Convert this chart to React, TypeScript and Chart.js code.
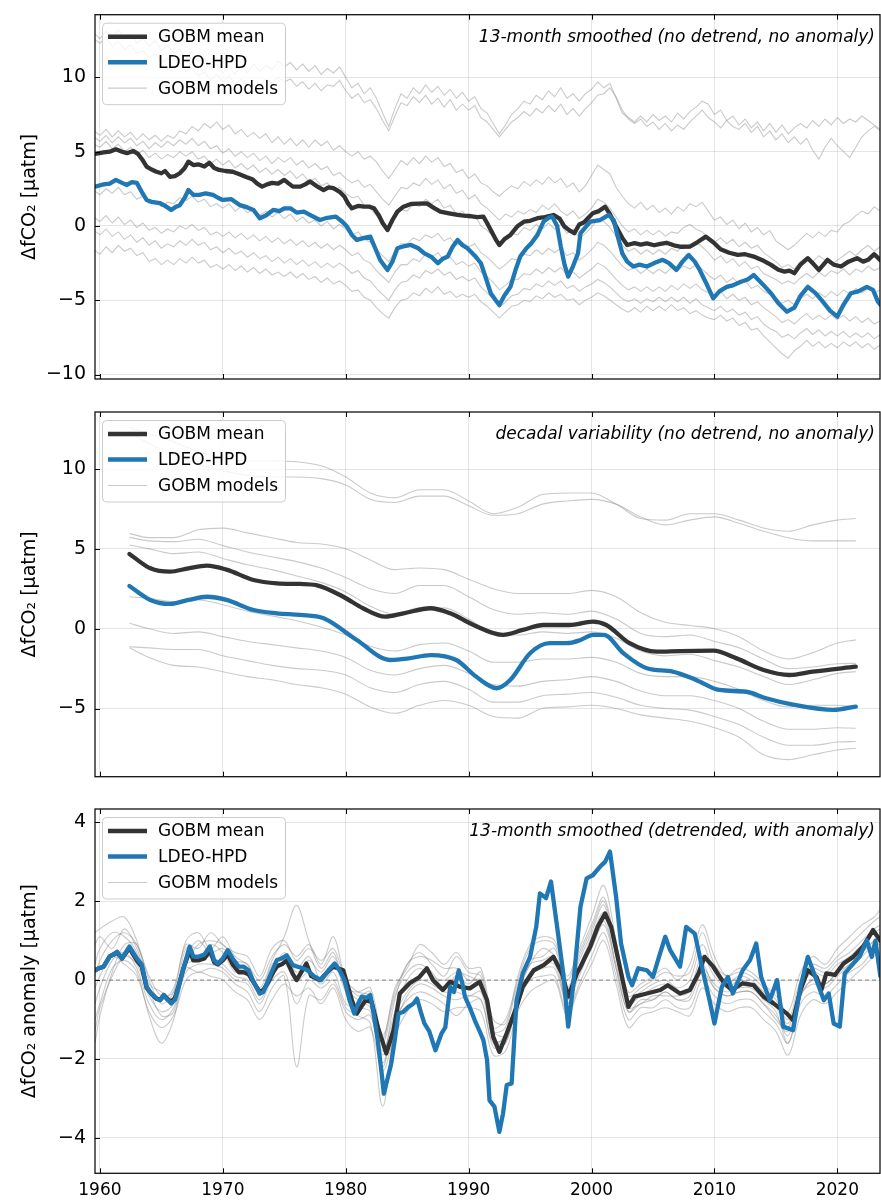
import React, { useEffect, useRef } from "react";
import { Chart, registerables } from "chart.js";

Chart.register(...registerables);

const FONT = '"DejaVu Sans", "Liberation Sans", sans-serif';
const BLACK = "#333333";
const BLUE = "#1f77b4";
const GRAY = "rgba(128,128,128,0.42)";
const GRID = "rgba(0,0,0,0.1)";

const X_MIN = 1959.6;
const X_MAX = 2023.47;
const X_TICKS = [1960, 1970, 1980, 1990, 2000, 2010, 2020];
const P1_Y_TICKS = [-10, -5, 0, 5, 10];
const P2_Y_TICKS = [-5, 0, 5, 10];
const P3_Y_TICKS = [-4, -2, 0, 2, 4];

const LEGEND_LABELS = ["GOBM mean", "LDEO-HPD", "GOBM models"];
const P1_NOTE = "13-month smoothed (no detrend, no anomaly)";
const P2_NOTE = "decadal variability (no detrend, no anomaly)";
const P3_NOTE = "13-month smoothed (detrended, with anomaly)";

// ---------- Panel 1: 13-month smoothed ----------
const P1_MEAN: [number, number][] = [
  [1959.6,4.85],[1960.3,4.95],[1960.8,5.0],[1961.3,5.16],[1961.8,5.0],[1962.2,4.9],[1962.7,5.05],[1963.1,4.85],[1963.5,4.4],[1963.8,4.0],
  [1964.2,3.8],[1964.6,3.65],[1965.0,3.55],[1965.3,3.7],[1965.7,3.3],[1966.1,3.35],[1966.5,3.55],[1966.9,3.9],[1967.2,4.33],[1967.6,4.1],
  [1968.0,4.15],[1968.5,4.0],[1968.9,4.25],[1969.3,3.9],[1969.7,3.77],[1970.2,3.7],[1970.8,3.65],[1971.3,3.5],[1971.9,3.3],[1972.4,3.15],
  [1972.8,2.85],[1973.2,2.65],[1973.6,2.8],[1974.0,2.9],[1974.5,2.85],[1975.0,3.1],[1975.3,2.9],[1975.7,2.65],[1976.3,2.65],[1976.7,2.8],
  [1977.1,3.0],[1977.6,2.7],[1978.2,2.42],[1978.6,2.6],[1979.0,2.54],[1979.5,2.3],[1979.9,1.97],[1980.2,1.5],[1980.5,1.19],[1981.0,1.35],
  [1981.5,1.3],[1981.9,1.3],[1982.3,1.19],[1982.7,0.7],[1983.0,0.2],[1983.4,-0.27],[1983.8,0.4],[1984.2,0.96],[1984.7,1.3],[1985.3,1.48],
  [1985.9,1.5],[1986.6,1.52],[1987.2,1.2],[1987.7,0.96],[1988.4,0.85],[1989.1,0.74],[1989.6,0.7],[1990.1,0.67],[1990.7,0.6],[1991.2,0.63],
  [1991.5,0.2],[1991.8,-0.27],[1992.2,-0.9],[1992.5,-1.28],[1992.9,-0.9],[1993.4,-0.6],[1994.0,0.0],[1994.5,0.29],[1995.0,0.35],[1995.6,0.52],
  [1996.2,0.6],[1996.9,0.74],[1997.4,0.5],[1997.8,-0.04],[1998.2,-0.3],[1998.6,-0.49],[1999.0,0.1],[1999.4,0.25],[1999.8,0.6],[2000.1,0.85],
  [2000.6,1.0],[2001.1,1.3],[2001.5,0.8],[2002.0,-0.04],[2002.5,-0.8],[2002.9,-1.28],[2003.5,-1.15],[2004.0,-1.25],[2004.5,-1.17],[2005.1,-1.3],
  [2005.6,-1.2],[2006.1,-1.13],[2006.7,-1.3],[2007.3,-1.4],[2008.0,-1.39],[2008.6,-1.1],[2009.3,-0.72],[2009.9,-1.1],[2010.5,-1.57],[2011.2,-1.8],
  [2011.9,-1.95],[2012.5,-1.9],[2013.2,-2.06],[2013.9,-2.3],[2014.6,-2.62],[2015.2,-2.95],[2015.7,-3.07],[2016.1,-3.0],[2016.5,-3.18],[2017.0,-2.6],
  [2017.6,-2.17],[2018.1,-2.6],[2018.5,-2.96],[2019.2,-2.28],[2019.7,-2.6],[2020.3,-2.73],[2020.9,-2.4],[2021.6,-2.17],[2022.1,-2.4],[2022.5,-2.28],
  [2023.0,-1.9],[2023.5,-2.3],
];

const P1_LDEO: [number, number][] = [
  [1959.6,2.65],[1960.3,2.8],[1960.8,2.85],[1961.3,3.1],[1961.8,2.9],[1962.2,2.76],[1962.6,2.95],[1963.0,2.9],[1963.4,2.3],[1963.8,1.75],
  [1964.3,1.6],[1964.9,1.53],[1965.3,1.35],[1965.8,1.08],[1966.2,1.3],[1966.5,1.4],[1966.9,1.9],[1967.2,2.42],[1967.6,2.1],[1968.1,2.09],
  [1968.6,2.2],[1969.2,2.09],[1969.6,1.9],[1970.0,1.75],[1970.7,1.8],[1971.4,1.4],[1972.0,1.25],[1972.5,1.08],[1973.0,0.52],[1973.5,0.7],
  [1974.1,1.08],[1974.6,1.0],[1975.0,1.19],[1975.5,1.19],[1976.0,0.9],[1976.6,0.96],[1977.2,0.7],[1977.9,0.4],[1978.5,0.55],[1979.2,0.63],
  [1979.7,0.3],[1980.1,-0.04],[1980.5,-0.6],[1980.9,-0.94],[1981.5,-0.8],[1982.0,-0.72],[1982.4,-1.5],[1982.8,-2.29],[1983.4,-2.96],[1983.8,-2.4],
  [1984.2,-1.5],[1984.8,-1.35],[1985.3,-1.28],[1985.9,-1.5],[1986.4,-1.84],[1987.0,-2.1],[1987.5,-2.51],[1987.9,-2.2],[1988.3,-2.06],[1988.7,-1.4],
  [1989.1,-0.94],[1989.5,-1.3],[1989.9,-1.5],[1990.5,-2.0],[1991.0,-2.51],[1991.4,-3.5],[1991.8,-4.53],[1992.2,-5.0],[1992.5,-5.32],[1992.9,-4.7],
  [1993.4,-4.1],[1993.8,-3.0],[1994.2,-2.06],[1994.7,-1.5],[1995.1,-1.17],[1995.6,-0.6],[1996.1,0.29],[1996.5,0.55],[1996.8,0.63],[1997.2,0.0],
  [1997.5,-1.39],[1997.8,-2.6],[1998.1,-3.41],[1998.5,-2.7],[1998.9,-1.84],[1999.1,-0.49],[1999.5,-0.1],[1999.9,0.29],[2000.3,0.35],[2000.7,0.4],
  [2001.1,0.6],[2001.4,0.74],[2001.8,0.4],[2002.1,-0.6],[2002.5,-1.84],[2002.9,-2.4],[2003.4,-2.73],[2003.9,-2.6],[2004.5,-2.73],[2005.1,-2.5],
  [2005.8,-2.28],[2006.3,-2.5],[2006.9,-2.96],[2007.4,-2.4],[2007.9,-1.95],[2008.4,-2.4],[2008.8,-2.96],[2009.3,-3.8],[2009.9,-4.87],[2010.4,-4.4],
  [2011.0,-4.1],[2011.5,-4.0],[2012.1,-3.77],[2012.7,-3.6],[2013.2,-3.3],[2013.9,-3.9],[2014.6,-4.53],[2015.2,-5.2],[2015.9,-5.77],[2016.5,-5.5],
  [2017.0,-4.7],[2017.6,-4.1],[2018.2,-4.5],[2018.7,-4.98],[2019.4,-5.7],[2020.0,-6.1],[2020.5,-5.3],[2021.1,-4.53],[2021.7,-4.4],[2022.4,-4.1],
  [2022.9,-4.3],[2023.3,-5.09],[2023.5,-5.3],
];

// half-yearly samples from 1959.5
const P1_MODEL_START = 1959.5;
const P1_MODEL_STEP = 0.5;
const P1_MODEL_1 = [13.0,
  12.6,13.1,12.7,13.2,12.6,12.9,12.3,12.6,12.1,12.5,
  11.8,12.2,11.6,11.9,11.3,11.7,11.0,11.3,10.6,10.9,
  10.3,10.7,10.2,10.8,10.3,10.9,10.4,10.8,10.5,11.1,
  10.7,11.0,10.5,10.9,10.4,10.8,10.2,10.6,10.3,10.7,
  10.0,9.3,9.6,8.9,9.3,8.6,7.6,6.7,7.9,8.9,
  8.6,9.3,8.9,9.5,9.0,9.4,8.8,9.2,8.6,9.0,
  8.4,8.7,7.9,7.6,6.9,6.2,6.8,7.5,7.9,8.4,
  8.2,8.8,8.5,9.1,8.7,9.3,8.6,8.9,8.4,8.9,
  9.2,9.7,9.3,9.6,8.6,7.6,7.3,7.0,7.4,7.0,
  7.5,7.1,7.4,7.0,7.6,7.2,7.7,8.0,8.4,8.2,
  7.5,7.8,7.1,7.4,6.8,7.2,6.6,7.0,6.4,6.9,
  6.3,6.8,6.2,6.6,6.9,6.6,7.1,6.7,7.2,6.8,
  7.3,6.9,7.2,7.0,7.4,7.1,6.8,6.5];
const P1_MODEL_2 = [12.6,
  12.3,12.7,12.1,12.4,11.9,12.2,11.6,11.8,11.3,11.6,
  11.0,11.3,10.7,11.0,10.4,10.6,10.1,10.4,9.8,10.2,
  9.7,10.1,9.5,9.9,9.4,9.8,9.5,9.9,9.6,10.0,
  9.7,9.9,9.4,9.7,9.2,9.6,9.1,9.5,9.4,9.8,
  9.1,8.6,8.9,8.3,8.5,7.9,7.1,6.4,7.4,8.3,
  8.1,8.7,8.3,8.8,8.2,8.6,8.0,8.5,7.8,8.2,
  7.8,8.1,7.3,7.0,6.5,6.0,6.5,7.0,7.3,7.7,
  7.4,7.9,7.6,8.1,7.7,8.2,7.5,7.9,7.4,7.9,
  8.3,8.8,8.9,9.3,8.7,7.8,7.2,6.9,7.2,6.7,
  7.0,6.5,6.9,6.4,6.8,6.5,7.0,7.4,7.8,7.3,
  7.0,6.6,7.1,6.7,6.5,6.9,6.3,6.7,6.0,6.4,
  5.8,6.2,5.6,6.0,5.5,5.9,5.1,4.5,5.3,5.9,
  5.4,5.0,4.6,5.3,6.0,6.4,6.7,6.4];
const P1_MODEL_3 = [6.4,
  6.1,6.5,6.0,6.4,6.0,6.3,5.8,6.2,5.8,6.1,
  5.7,6.1,5.9,6.4,6.2,6.7,6.4,6.9,6.6,7.0,
  6.5,6.8,6.2,6.5,6.0,6.3,5.9,6.2,5.6,6.0,
  5.5,5.9,5.4,5.8,5.3,5.8,5.4,5.7,5.1,5.4,
  5.0,4.7,5.0,4.5,4.7,4.3,3.7,3.2,3.8,4.4,
  4.1,4.6,4.2,4.7,4.3,4.6,4.0,4.2,3.6,3.8,
  3.2,3.5,2.9,2.7,2.3,2.0,2.4,2.7,2.5,3.0,
  2.7,3.1,2.8,3.3,2.9,3.2,2.6,2.9,2.3,2.7,
  3.4,4.1,3.8,3.5,2.6,2.0,1.5,1.2,1.6,1.1,
  1.4,0.9,1.2,0.8,1.3,1.0,1.5,1.3,1.6,1.0,
  0.4,0.6,0.1,0.4,-0.2,0.2,-0.4,-0.1,-0.6,-0.3,
  -1.0,-1.3,-1.6,-1.3,-0.9,-0.5,-0.8,-0.4,-0.7,-0.3,
  -0.4,0.1,0.3,0.7,1.0,0.8,1.3,1.0];
const P1_MODEL_4 = [6.0,
  5.7,6.1,5.6,6.0,5.6,5.9,5.4,5.7,5.2,5.6,
  5.3,5.7,5.4,5.8,5.5,5.9,5.4,5.7,5.2,5.4,
  4.9,5.2,4.7,5.0,4.6,4.9,4.4,4.7,4.2,4.6,
  4.3,4.6,4.1,4.4,3.9,4.2,3.8,4.0,3.4,3.6,
  3.2,2.9,3.1,2.6,2.8,2.3,1.8,1.4,2.0,2.6,
  2.5,2.9,2.7,3.2,2.8,3.1,2.5,2.8,2.2,2.4,
  1.8,2.1,1.5,1.2,0.8,0.4,0.8,0.6,1.0,0.8,
  1.1,0.9,1.4,1.1,1.5,1.0,0.7,1.0,0.5,0.8,
  1.2,1.8,1.6,1.2,0.6,0.0,-0.4,-0.2,-0.6,-0.3,
  -0.6,-0.3,-0.7,-0.4,-0.5,-0.1,0.1,-0.2,-0.4,-0.8,
  -1.1,-0.8,-1.2,-0.9,-1.4,-1.1,-1.5,-1.3,-1.8,-2.1,
  -2.4,-2.8,-2.6,-2.9,-2.4,-2.1,-2.4,-2.0,-2.3,-2.6,
  -2.3,-2.0,-1.7,-2.0,-1.6,-1.3,-1.7,-1.4];
const P1_MODEL_5 = [5.5,
  5.3,5.7,5.2,5.5,5.0,5.3,4.8,5.1,4.6,4.9,
  4.5,4.8,4.6,5.0,4.7,5.0,4.5,4.7,4.2,4.5,
  4.1,4.4,3.9,4.2,3.8,4.1,3.6,3.9,3.5,3.8,
  3.4,3.7,3.2,3.5,3.0,3.2,2.7,2.9,2.4,2.6,
  2.2,1.9,2.0,1.4,1.2,0.7,0.2,-0.2,0.5,1.1,
  1.0,1.5,1.3,1.8,1.5,1.8,1.2,1.4,0.8,1.0,
  0.5,0.7,0.0,-0.3,-0.7,-1.2,-0.9,-0.5,-0.6,-0.1,
  -0.3,0.1,-0.2,0.2,-0.2,0.1,-0.5,-0.2,-0.8,-0.5,
  -0.1,0.5,0.3,-0.1,-0.7,-1.3,-1.7,-1.5,-1.9,-1.6,
  -1.9,-1.6,-1.9,-1.5,-1.7,-1.3,-1.5,-1.1,-1.4,-1.8,
  -2.3,-2.0,-2.5,-2.2,-2.7,-2.4,-2.9,-2.7,-3.2,-3.4,
  -3.6,-3.9,-3.7,-3.9,-3.5,-3.2,-3.5,-3.1,-3.4,-3.0,
  -3.2,-2.9,-3.3,-2.9,-3.1,-2.7,-3.0,-2.8];
const P1_MODEL_6 = [2.4,
  2.1,2.5,2.2,2.6,2.1,2.3,1.8,2.0,1.5,1.7,
  1.3,1.6,1.5,1.9,1.7,2.0,1.6,1.8,1.3,1.5,
  1.2,1.5,1.0,1.3,0.9,1.1,0.7,1.0,0.6,0.9,
  0.5,0.8,0.3,0.6,0.2,0.4,0.0,0.3,-0.2,0.1,
  -0.2,-0.6,-0.4,-0.9,-1.1,-1.6,-2.0,-2.4,-1.7,-1.2,
  -1.2,-0.8,-1.0,-0.6,-0.8,-0.5,-1.0,-0.8,-1.3,-1.1,
  -1.4,-1.2,-1.8,-2.1,-2.5,-2.9,-2.6,-2.2,-2.3,-1.9,
  -2.0,-1.6,-1.9,-1.5,-1.8,-1.5,-2.0,-1.8,-2.3,-2.0,
  -1.6,-1.1,-1.3,-1.7,-2.2,-2.7,-3.0,-2.8,-3.2,-2.9,
  -3.2,-2.9,-3.2,-2.8,-3.0,-2.7,-2.9,-2.6,-2.9,-3.3,
  -3.6,-3.3,-3.8,-3.5,-3.9,-3.7,-4.2,-4.0,-4.4,-4.6,
  -4.9,-5.2,-5.0,-5.3,-4.9,-4.6,-4.9,-4.5,-4.8,-4.4,
  -4.7,-4.3,-4.6,-4.2,-4.5,-4.2,-4.5,-4.3];
const P1_MODEL_7 = [0.6,
  0.3,0.7,0.2,0.6,0.1,0.4,-0.1,0.2,-0.3,-0.1,
  -0.5,-0.2,-0.4,0.0,-0.2,0.1,-0.3,-0.1,-0.6,-0.4,
  -0.7,-0.4,-0.8,-0.5,-0.9,-0.6,-1.0,-0.7,-1.1,-0.8,
  -1.2,-0.9,-1.3,-1.0,-1.4,-1.1,-1.5,-1.2,-1.6,-1.3,
  -1.6,-2.0,-1.8,-2.3,-2.5,-3.0,-3.4,-3.8,-3.1,-2.6,
  -2.6,-2.2,-2.4,-1.9,-2.1,-1.8,-2.3,-2.1,-2.6,-2.4,
  -2.7,-2.5,-3.1,-3.4,-3.8,-4.3,-4.0,-3.6,-3.6,-3.2,
  -3.3,-2.9,-3.2,-2.8,-3.1,-2.8,-3.3,-3.1,-3.5,-3.2,
  -2.9,-2.5,-2.7,-3.1,-3.6,-4.0,-4.3,-4.1,-4.4,-4.1,
  -4.4,-4.1,-4.4,-4.0,-4.3,-3.9,-4.2,-3.9,-4.3,-4.5,
  -4.7,-4.4,-4.9,-4.6,-5.0,-4.8,-5.3,-5.1,-5.5,-5.8,
  -6.1,-6.5,-6.3,-6.6,-6.2,-5.9,-6.3,-6.0,-6.3,-6.0,
  -6.3,-6.0,-6.4,-6.1,-6.5,-6.2,-6.6,-6.4];
const P1_MODEL_8 = [-0.3,
  -0.6,-0.2,-0.7,-0.4,-0.9,-0.6,-1.1,-0.8,-1.3,-1.0,
  -1.5,-1.2,-1.4,-1.0,-1.3,-0.9,-1.3,-1.1,-1.6,-1.4,
  -1.8,-1.5,-1.9,-1.7,-2.1,-1.8,-2.2,-2.0,-2.4,-2.1,
  -2.5,-2.2,-2.6,-2.3,-2.7,-2.4,-2.8,-2.5,-2.8,-2.5,
  -2.8,-3.2,-3.0,-3.5,-3.7,-4.2,-4.6,-5.0,-4.3,-3.8,
  -3.7,-3.3,-3.5,-3.0,-3.2,-2.9,-3.3,-3.1,-3.6,-3.4,
  -3.7,-3.5,-4.1,-4.5,-4.9,-5.5,-5.1,-4.7,-4.6,-4.2,
  -4.3,-3.9,-4.1,-3.7,-4.0,-3.7,-4.2,-4.0,-4.4,-4.1,
  -3.9,-3.6,-3.8,-4.1,-4.5,-4.9,-5.1,-4.9,-5.2,-4.9,
  -5.1,-4.8,-5.1,-4.8,-5.1,-4.8,-5.2,-4.9,-5.3,-5.5,
  -5.7,-5.4,-5.8,-5.6,-6.0,-5.8,-6.3,-6.1,-6.6,-6.9,
  -7.1,-7.5,-7.3,-7.6,-7.2,-6.9,-7.3,-7.0,-7.4,-7.1,
  -7.4,-7.1,-7.5,-7.2,-7.5,-7.2,-7.6,-7.3];
const P1_MODEL_9 = [-1.6,
  -1.9,-1.4,-1.8,-1.3,-1.7,-1.5,-2.0,-1.8,-2.4,-2.2,
  -2.6,-2.3,-2.6,-2.2,-2.5,-2.1,-2.5,-2.3,-2.8,-2.6,
  -2.9,-2.6,-3.0,-2.7,-3.1,-2.8,-3.2,-2.9,-3.3,-3.1,
  -3.4,-3.1,-3.5,-3.2,-3.6,-3.4,-3.8,-3.5,-3.9,-3.7,
  -4.0,-4.4,-4.3,-4.8,-5.0,-5.5,-5.9,-6.2,-5.5,-5.0,
  -4.9,-4.5,-4.7,-4.2,-4.5,-4.1,-4.6,-4.4,-4.8,-4.6,
  -4.8,-4.6,-5.1,-5.4,-5.8,-6.2,-5.8,-5.4,-5.3,-5.0,
  -5.1,-4.7,-4.9,-4.5,-4.8,-4.6,-5.0,-4.9,-5.3,-5.0,
  -4.8,-4.5,-4.7,-5.0,-5.3,-5.6,-5.8,-5.5,-5.8,-5.4,
  -5.7,-5.4,-5.7,-5.3,-5.7,-5.5,-5.9,-5.7,-6.0,-6.2,
  -6.3,-6.0,-6.4,-6.2,-6.7,-6.5,-7.0,-6.9,-7.4,-7.8,
  -8.2,-8.6,-8.9,-8.4,-8.1,-7.7,-8.1,-7.8,-8.2,-7.9,
  -8.2,-7.8,-8.1,-7.8,-8.2,-7.9,-8.3,-8.0];
const P1_MODELS = [P1_MODEL_1, P1_MODEL_2, P1_MODEL_3, P1_MODEL_4, P1_MODEL_5, P1_MODEL_6, P1_MODEL_7, P1_MODEL_8, P1_MODEL_9];

// ---------- Panel 2: decadal variability ----------
const P2_MEAN: [number, number][] = [
  [1962.4,4.68],[1964.1,3.78],[1965.7,3.57],[1967.2,3.78],[1968.7,3.95],[1970.3,3.7],[1972.5,3.05],[1974.4,2.84],[1976.3,2.8],[1977.6,2.73],
  [1979.8,2.0],[1981.4,1.28],[1983.2,0.75],[1984.7,0.96],[1986.9,1.28],[1988.5,0.96],[1990.4,0.23],[1992.8,-0.39],[1994.4,-0.08],[1996.1,0.23],
  [1998.2,0.23],[2000.1,0.44],[2001.2,0.23],[2003.1,-0.91],[2005.3,-1.44],[2007.2,-1.4],[2009.9,-1.38],[2011.8,-1.86],[2014.0,-2.59],[2016.1,-2.9],
  [2018.0,-2.69],[2021.5,-2.38],
];
const P2_LDEO: [number, number][] = [
  [1962.4,2.67],[1964.1,1.8],[1965.7,1.55],[1967.2,1.8],[1968.7,2.0],[1970.3,1.8],[1972.5,1.17],[1974.4,0.96],[1976.3,0.86],[1978.2,0.65],
  [1980.9,-0.71],[1983.6,-1.96],[1985.0,-1.88],[1986.9,-1.65],[1989.0,-1.96],[1990.6,-3.0],[1992.3,-3.73],[1993.4,-3.2],[1995.0,-1.54],[1996.6,-0.91],
  [1998.0,-0.91],[1999.1,-0.71],[2000.1,-0.39],[2001.0,-0.39],[2002.6,-1.54],[2004.5,-2.48],[2006.6,-2.69],[2008.5,-3.21],[2010.4,-3.84],[2012.6,-3.95],
  [2014.2,-4.36],[2016.4,-4.76],[2019.7,-5.09],[2021.5,-4.88],
];
const P2_MODEL_YEARS = [1962.4,1964,1966,1968,1970,1972,1974,1976,1978,1980,1982,1984,1986,1988,1990,1992,1994,1996,1998,2000,2002,2004,2006,2008,2010,2012,2014,2016,2018,2020,2021.5];
const P2_MODEL_1 = [12.6,12.2,11.7,11.1,10.7,10.5,10.5,10.45,10.2,9.5,8.5,8.2,8.7,8.7,8.0,7.2,7.6,8.4,8.5,8.5,7.8,6.9,6.8,7.2,7.2,6.8,6.3,6.1,6.5,6.8,6.9];
const P2_MODEL_2 = [12.3,11.6,10.9,10.3,9.9,9.6,9.5,9.5,9.4,9.0,8.1,7.9,8.3,8.3,7.7,7.1,7.2,7.8,8.0,8.1,7.8,7.0,6.5,6.8,7.0,6.6,6.1,5.7,5.5,5.5,5.5];
const P2_MODEL_3 = [5.97,5.7,5.7,6.2,6.3,6.0,5.7,5.4,5.3,5.0,4.3,3.7,3.8,3.7,3.1,2.5,2.2,2.2,2.2,2.4,2.0,1.0,0.4,0.2,0.0,-0.5,-1.4,-1.9,-1.5,-0.9,-0.7];
const P2_MODEL_4 = [5.72,5.5,5.45,5.6,5.2,4.8,4.5,4.2,3.8,3.2,2.5,2.2,2.7,2.7,2.0,1.2,0.9,1.0,0.9,1.1,0.6,-0.3,-0.5,-0.4,-0.8,-1.2,-1.9,-2.5,-2.4,-2.2,-2.17];
const P2_MODEL_5 = [5.24,5.0,4.7,4.8,4.4,4.0,3.7,3.3,2.9,2.3,1.4,0.9,1.3,1.3,0.6,-0.3,-0.4,-0.2,-0.3,-0.2,-0.6,-1.4,-1.7,-1.6,-2.0,-2.4,-3.0,-3.5,-3.2,-2.8,-2.69];
const P2_MODEL_6 = [2.0,1.9,1.7,1.8,1.5,1.1,0.8,0.5,0.1,-0.4,-1.1,-1.4,-1.0,-0.9,-1.4,-2.1,-2.1,-1.9,-1.9,-1.8,-2.1,-2.8,-3.0,-3.0,-3.3,-3.8,-4.5,-4.9,-4.8,-4.8,-4.9];
const P2_MODEL_7 = [0.34,0.0,-0.3,-0.2,-0.5,-0.8,-1.0,-1.2,-1.4,-1.8,-2.6,-2.9,-2.5,-2.3,-2.8,-3.5,-3.6,-3.3,-3.2,-3.0,-3.3,-3.9,-4.2,-4.2,-4.5,-5.0,-5.8,-6.3,-6.3,-6.2,-6.24];
const P2_MODEL_8 = [-1.13,-1.2,-1.3,-1.3,-1.7,-2.0,-2.3,-2.5,-2.6,-2.9,-3.7,-4.0,-3.5,-3.3,-3.8,-4.6,-4.6,-4.2,-4.1,-4.0,-4.3,-4.8,-5.0,-5.1,-5.5,-6.0,-6.8,-7.3,-7.3,-7.1,-7.07];
const P2_MODEL_9 = [-1.2,-1.8,-2.3,-2.4,-2.7,-3.0,-3.2,-3.5,-3.7,-4.1,-4.9,-5.3,-4.8,-4.5,-4.8,-5.5,-5.6,-5.0,-4.9,-4.8,-5.0,-5.4,-5.6,-5.8,-6.2,-6.8,-7.9,-8.2,-7.9,-7.6,-7.49];
const P2_MODELS = [P2_MODEL_1, P2_MODEL_2, P2_MODEL_3, P2_MODEL_4, P2_MODEL_5, P2_MODEL_6, P2_MODEL_7, P2_MODEL_8, P2_MODEL_9];

// ---------- Panel 3: detrended anomaly ----------
const P3_MEAN: [number, number][] = [
  [1959.6,0.25],[1959.9,0.3],[1960.3,0.34],[1960.8,0.6],[1961.1,0.65],[1961.4,0.7],[1961.8,0.55],[1962.1,0.68],[1962.4,0.82],[1962.7,0.65],
  [1963.0,0.5],[1963.4,0.35],[1963.8,-0.2],[1964.2,-0.35],[1964.6,-0.47],[1964.9,-0.5],[1965.2,-0.38],[1965.5,-0.48],[1965.8,-0.55],[1966.1,-0.45],
  [1966.4,-0.15],[1966.8,0.3],[1967.3,0.75],[1967.6,0.5],[1968.0,0.5],[1968.5,0.55],[1968.95,0.75],[1969.3,0.45],[1969.6,0.4],[1970.0,0.5],
  [1970.4,0.65],[1970.8,0.4],[1971.3,0.2],[1971.7,0.2],[1972.1,0.15],[1972.5,-0.05],[1973.0,-0.3],[1973.3,-0.25],[1973.7,-0.05],[1974.1,0.2],
  [1974.4,0.35],[1974.8,0.4],[1975.2,0.5],[1975.7,0.15],[1976.0,0.0],[1976.8,0.42],[1977.2,0.1],[1977.9,0.0],[1978.5,0.2],[1979.0,0.34],
  [1979.8,0.25],[1980.5,-0.51],[1980.9,-0.85],[1981.6,-0.51],[1982.1,-0.55],[1982.6,-1.18],[1983.3,-1.86],[1983.9,-1.27],[1984.4,-0.34],[1985.2,-0.08],
  [1986.0,0.08],[1986.6,0.3],[1987.1,0.0],[1987.9,-0.25],[1988.5,-0.04],[1989.3,-0.17],[1990.1,-0.21],[1990.9,-0.04],[1991.5,-0.51],[1992.0,-1.44],
  [1992.5,-1.82],[1993.1,-1.35],[1993.9,-0.68],[1994.4,-0.17],[1995.3,0.25],[1996.1,0.38],[1996.9,0.59],[1997.6,0.17],[1998.1,-0.42],[1998.8,0.17],
  [1999.1,0.34],[1999.5,0.6],[1999.9,0.85],[2000.5,1.35],[2001.1,1.69],[2001.6,1.35],[2002.3,0.34],[2003.0,-0.68],[2003.5,-0.42],[2004.5,-0.34],
  [2005.6,-0.25],[2006.2,-0.13],[2007.2,-0.34],[2008.0,-0.25],[2008.7,0.17],[2009.2,0.59],[2009.9,0.34],[2010.7,-0.04],[2011.4,-0.25],[2012.3,-0.08],
  [2013.2,-0.13],[2014.0,-0.42],[2014.8,-0.59],[2015.9,-0.85],[2016.4,-1.02],[2017.0,-0.25],[2017.6,0.25],[2018.3,0.08],[2018.7,-0.25],[2019.1,0.17],
  [2019.8,0.13],[2020.5,0.42],[2021.3,0.59],[2022.1,0.85],[2022.9,1.27],[2023.5,1.0],
];
const P3_LDEO: [number, number][] = [
  [1959.6,0.25],[1959.9,0.3],[1960.3,0.34],[1960.8,0.6],[1961.1,0.65],[1961.4,0.72],[1961.8,0.55],[1962.1,0.7],[1962.4,0.85],[1962.7,0.7],
  [1963.0,0.55],[1963.4,0.4],[1963.8,-0.17],[1964.2,-0.35],[1964.6,-0.47],[1964.9,-0.51],[1965.2,-0.38],[1965.5,-0.5],[1965.8,-0.59],[1966.1,-0.5],
  [1966.4,-0.17],[1966.8,0.3],[1967.3,0.85],[1967.6,0.6],[1968.0,0.59],[1968.5,0.65],[1968.95,0.85],[1969.3,0.5],[1969.6,0.42],[1970.0,0.55],
  [1970.4,0.76],[1970.8,0.55],[1971.3,0.34],[1971.7,0.34],[1972.1,0.25],[1972.5,-0.05],[1973.0,-0.34],[1973.3,-0.3],[1973.7,0.0],[1974.1,0.3],
  [1974.4,0.51],[1974.8,0.55],[1975.2,0.63],[1975.7,0.38],[1976.1,0.34],[1976.5,0.3],[1976.9,0.25],[1977.4,0.1],[1978.0,0.0],[1978.6,0.25],
  [1979.1,0.42],[1979.5,0.25],[1979.9,0.0],[1980.3,-0.5],[1980.7,-0.85],[1981.0,-0.6],[1981.3,-0.42],[1981.7,-0.45],[1982.0,-0.38],[1982.3,-0.9],
  [1982.6,-1.52],[1982.9,-2.3],[1983.1,-2.88],[1983.4,-2.5],[1983.7,-2.12],[1984.0,-1.5],[1984.3,-0.85],[1984.7,-0.8],[1985.1,-0.68],[1985.5,-0.6],
  [1985.8,-0.47],[1986.1,-0.8],[1986.4,-1.1],[1986.8,-1.3],[1987.3,-1.78],[1987.8,-1.35],[1988.1,-1.2],[1988.5,-0.17],[1988.8,-0.3],[1989.2,0.25],
  [1989.5,-0.1],[1989.7,-0.42],[1990.1,-0.7],[1990.5,-1.02],[1990.9,-1.3],[1991.2,-1.52],[1991.5,-2.03],[1991.7,-3.05],[1992.1,-3.21],[1992.5,-3.85],
  [1992.8,-3.38],[1993.1,-2.66],[1993.5,-2.62],[1993.9,-0.51],[1994.4,0.17],[1995.0,0.59],[1995.5,1.35],[1995.8,2.2],[1996.3,2.08],[1996.7,2.5],
  [1997.2,1.35],[1997.7,0.17],[1998.1,-1.18],[1998.5,-0.17],[1999.1,1.86],[1999.6,2.58],[2000.1,2.66],[2000.7,2.88],[2001.1,3.0],[2001.5,3.26],
  [2002.0,2.11],[2002.4,0.93],[2003.0,0.08],[2003.3,-0.13],[2003.8,0.3],[2004.5,0.25],[2005.0,0.08],[2005.5,0.6],[2006.0,1.1],[2006.4,0.76],
  [2007.2,0.34],[2007.7,1.35],[2008.4,1.18],[2009.1,0.17],[2009.6,-0.51],[2010.0,-1.1],[2010.6,-0.17],[2011.1,0.08],[2011.5,-0.34],[2012.3,0.25],
  [2012.9,0.51],[2013.4,0.93],[2013.8,0.08],[2014.5,-0.51],[2015.1,0.0],[2015.6,-1.18],[2016.4,-1.27],[2017.0,-0.17],[2017.6,0.59],[2018.3,0.0],
  [2018.9,-0.51],[2019.3,-0.34],[2019.7,-1.1],[2020.2,-1.18],[2020.6,0.17],[2021.3,0.42],[2021.8,0.59],[2022.4,1.01],[2022.8,0.59],[2023.1,1.0],
  [2023.5,0.1],
];
// samples at 1959.6, every year 1960..2023, and 2023.5
const P3_MODEL_1 = [-1.6,
  -0.9,0.2,0.9,0.9,-0.2,-0.9,-0.8,0.4,0.9,1.0,
  0.9,0.5,0.4,-0.2,0.5,1.1,1.9,1.0,0.3,0.7,
  -0.2,-0.3,-0.2,-1.4,-0.3,0.4,0.7,0.4,0.1,0.6,
  0.2,0.1,-1.2,-1.0,0.0,0.8,1.0,0.9,0.0,0.7,
  1.4,2.1,0.8,-0.3,-0.1,0.1,0.3,0.0,0.4,1.4,
  0.6,0.1,0.3,0.2,-0.1,-0.4,-0.8,0.2,0.6,0.4,
  0.8,1.1,1.4,1.6,
  1.8];
const P3_MODEL_2 = [-1.0,
  -0.6,0.3,0.5,0.2,-0.9,-1.6,-1.0,0.3,0.2,0.3,
  0.2,-0.1,-0.3,-0.8,-0.2,0.1,-2.2,-0.4,-0.5,-0.1,
  -0.8,-1.0,-0.9,-2.1,-1.0,-0.5,-0.3,-0.4,-0.6,-0.9,
  -0.6,-0.5,-1.7,-1.6,-0.6,0.0,0.1,0.1,-0.8,-0.1,
  0.6,1.2,0.1,-1.0,-0.7,-0.7,-0.5,-0.7,-0.7,0.0,
  -0.4,-0.6,-0.5,-0.5,-0.8,-1.1,-1.6,-0.6,-0.3,-0.4,
  -0.1,0.2,0.4,0.8,
  1.0];
const P3_MODEL_3 = [0.9,
  1.1,0.8,1.3,0.8,-0.1,-0.3,-0.5,0.8,0.5,0.9,
  0.7,0.2,0.3,-0.4,0.4,0.6,0.3,0.6,0.0,0.4,
  -0.3,-0.8,-0.5,-1.6,-0.4,0.2,0.4,0.2,-0.2,0.1,
  -0.1,0.2,-1.3,-1.2,-0.1,0.5,0.6,0.8,-0.3,0.5,
  1.2,1.9,0.6,-0.5,-0.3,-0.1,0.0,-0.2,0.0,0.9,
  0.2,-0.1,0.1,0.0,-0.3,-0.6,-1.2,-0.1,0.3,0.2,
  0.5,0.7,1.0,1.3,
  1.4];
const P3_MODEL_4 = [1.2,
  1.3,1.5,1.6,1.0,0.0,-0.6,-0.3,1.0,1.2,0.8,
  1.1,0.6,0.4,0.0,0.6,0.9,0.6,0.9,0.4,1.1,
  0.0,-0.4,-0.3,-1.9,-0.5,0.4,0.6,0.5,0.3,0.3,
  0.0,0.0,-1.5,-1.6,-0.4,0.4,0.5,0.6,-0.6,0.3,
  1.1,1.7,0.3,-0.8,-0.6,-0.5,-0.3,-0.5,-0.4,0.4,
  -0.2,-0.4,-0.3,-0.3,-0.6,-1.0,-1.3,-0.4,0.0,-0.1,
  0.2,0.5,0.7,1.0,
  1.1];
const P3_MODEL_5 = [-0.6,
  -0.2,0.5,0.7,0.3,-0.6,-1.0,-0.7,0.2,0.4,0.4,
  0.3,0.0,-0.1,-0.6,0.0,0.2,-0.6,0.0,-0.2,0.0,
  -0.7,-0.9,-1.1,-3.2,-1.2,-0.4,-0.1,-0.2,-0.4,-0.5,
  -0.4,-0.5,-1.6,-1.4,-0.5,0.1,0.3,0.3,-0.6,0.2,
  0.8,1.4,0.3,-0.8,-0.5,-0.5,-0.3,-0.5,-0.5,0.2,
  -0.2,-0.4,-0.3,-0.3,-0.6,-0.9,-1.4,-0.4,-0.1,-0.2,
  0.1,0.4,0.6,0.9,
  0.9];
const P3_MODEL_6 = [0.4,
  0.8,1.2,1.1,0.7,-0.3,-0.5,-0.2,0.9,0.8,1.2,
  0.9,0.7,0.6,0.1,0.8,1.0,0.5,0.8,0.5,0.8,
  0.0,-0.3,-0.4,-1.5,-0.2,0.3,0.9,0.7,0.4,0.7,
  0.3,0.3,-1.0,-1.1,0.1,0.9,1.1,1.0,0.1,0.8,
  1.6,2.4,1.0,-0.4,-0.2,0.0,0.2,0.1,0.2,1.2,
  0.4,0.1,0.2,0.1,-0.2,-0.5,-1.0,0.0,0.4,0.3,
  0.6,0.9,1.2,1.5,
  1.6];
const P3_MODEL_7 = [-0.2,
  0.1,0.6,0.4,0.1,-0.8,-1.2,-0.9,0.0,0.2,0.1,
  0.0,-0.3,-0.5,-1.0,-0.5,-0.1,-0.4,-0.2,-0.6,-0.2,
  -1.0,-1.3,-1.2,-2.3,-1.4,-0.8,-0.5,-0.6,-0.8,-0.7,
  -0.7,-0.8,-1.9,-1.8,-0.8,-0.3,-0.1,0.0,-0.9,-0.2,
  0.4,1.0,-0.1,-1.2,-0.9,-0.8,-0.7,-0.8,-0.9,-0.2,
  -0.6,-0.8,-0.7,-0.7,-1.0,-1.3,-1.9,-0.9,-0.5,-0.6,
  -0.3,0.0,0.3,0.6,
  0.7];
const P3_MODEL_8 = [0.1,
  0.5,1.0,1.2,0.9,0.1,-0.4,-0.3,0.6,1.0,0.7,
  0.8,0.4,0.1,-0.3,0.2,0.7,0.2,0.5,0.2,0.6,
  -0.2,-0.5,-0.7,-1.8,-0.8,0.0,0.3,0.1,0.0,0.2,
  0.1,-0.1,-1.3,-1.4,-0.3,0.4,0.8,0.6,-0.2,0.6,
  1.3,2.0,0.7,-0.6,-0.4,-0.2,-0.1,-0.3,-0.2,0.6,
  0.1,-0.2,0.0,-0.1,-0.4,-0.7,-1.1,-0.2,0.2,0.1,
  0.4,0.6,0.9,1.2,
  1.3];
const P3_MODEL_9 = [-1.3,
  -0.7,0.1,0.6,0.4,-0.4,-0.8,-0.6,0.4,0.5,0.6,
  0.4,0.1,0.0,-0.5,0.1,0.4,0.0,0.2,-0.1,0.2,
  -0.6,-0.7,-0.8,-2.2,-0.9,-0.3,0.0,-0.1,-0.3,-0.3,
  -0.4,-0.3,-1.5,-1.5,-0.4,0.2,0.4,0.4,-0.5,0.1,
  0.9,1.5,0.4,-0.7,-0.6,-0.4,-0.4,-0.4,-0.3,0.3,
  -0.1,-0.3,-0.2,-0.2,-0.5,-0.8,-1.6,-0.4,0.0,-0.1,
  0.2,0.4,0.7,1.0,
  1.1];
const P3_MODELS = [P3_MODEL_1, P3_MODEL_2, P3_MODEL_3, P3_MODEL_4, P3_MODEL_5, P3_MODEL_6, P3_MODEL_7, P3_MODEL_8, P3_MODEL_9];
const P3_MODEL_YEARS = [1959.6, ...Array.from({ length: 64 }, (_, i) => 1960 + i), 2023.5];

// ---------- helpers ----------
const pairsXY = (p: [number, number][]) => p.map(([x, y]) => ({ x, y }));
const zipXY = (xs: number[], ys: number[]) => ys.map((y, i) => ({ x: xs[i], y }));
const P1_MODEL_YEARS = P1_MODEL_1.map((_, i) => P1_MODEL_START + P1_MODEL_STEP * i);

const decorPlugin = {
  id: "decor",
  beforeDatasetsDraw(chart: any, _a: any, o: any) {
    if (!o || !o.zeroLine) return;
    const { ctx, chartArea: ca, scales } = chart;
    const py = scales.y.getPixelForValue(0);
    ctx.save();
    ctx.strokeStyle = "#7f7f7f";
    ctx.lineWidth = 1;
    ctx.setLineDash([4, 3]);
    ctx.beginPath();
    ctx.moveTo(ca.left, py);
    ctx.lineTo(ca.right, py);
    ctx.stroke();
    ctx.restore();
  },
  afterDraw(chart: any, _a: any, o: any) {
    const { ctx, chartArea: ca, scales } = chart;
    const xS = scales.x;
    const yS = scales.y;
    ctx.save();
    // inward tick marks
    ctx.strokeStyle = "#000";
    ctx.lineWidth = 1;
    ctx.beginPath();
    for (const t of yS.ticks) {
      const py = Math.round(yS.getPixelForValue(t.value)) + 0.5;
      ctx.moveTo(ca.left, py);
      ctx.lineTo(ca.left + 5, py);
    }
    for (const t of xS.ticks) {
      const px = Math.round(xS.getPixelForValue(t.value)) + 0.5;
      ctx.moveTo(px, ca.bottom);
      ctx.lineTo(px, ca.bottom - 5);
      ctx.moveTo(px, ca.top);
      ctx.lineTo(px, ca.top + 5);
    }
    ctx.stroke();
    // frame
    ctx.strokeStyle = "#111";
    ctx.lineWidth = 1.3;
    ctx.strokeRect(ca.left, ca.top, ca.right - ca.left, ca.bottom - ca.top);

    // legend box
    const bx = ca.left + 7.5, by = ca.top + 8.5, bw = 183, bh = 81.5, r = 4;
    ctx.beginPath();
    ctx.moveTo(bx + r, by);
    ctx.lineTo(bx + bw - r, by);
    ctx.quadraticCurveTo(bx + bw, by, bx + bw, by + r);
    ctx.lineTo(bx + bw, by + bh - r);
    ctx.quadraticCurveTo(bx + bw, by + bh, bx + bw - r, by + bh);
    ctx.lineTo(bx + r, by + bh);
    ctx.quadraticCurveTo(bx, by + bh, bx, by + bh - r);
    ctx.lineTo(bx, by + r);
    ctx.quadraticCurveTo(bx, by, bx + r, by);
    ctx.closePath();
    ctx.fillStyle = "rgba(255,255,255,0.8)";
    ctx.fill();
    ctx.strokeStyle = "#cccccc";
    ctx.lineWidth = 1;
    ctx.stroke();

    const rows = [22, 47.5, 73.5];
    const styles = [
      { c: BLACK, w: 4.5 },
      { c: BLUE, w: 4.5 },
      { c: GRAY, w: 1.2 },
    ];
    ctx.font = `17px ${FONT}`;
    ctx.textBaseline = "middle";
    ctx.textAlign = "left";
    rows.forEach((ry, i) => {
      const yy = ca.top + ry;
      ctx.strokeStyle = styles[i].c;
      ctx.lineWidth = styles[i].w;
      ctx.lineCap = "butt";
      ctx.beginPath();
      ctx.moveTo(ca.left + 13, yy);
      ctx.lineTo(ca.left + 52, yy);
      ctx.stroke();
      ctx.fillStyle = "#000";
      ctx.fillText(LEGEND_LABELS[i], ca.left + 63, yy + 1);
    });

    // annotation
    if (o && o.note) {
      ctx.font = `italic 17px ${FONT}`;
      ctx.textAlign = "right";
      ctx.textBaseline = "middle";
      ctx.fillStyle = "#000";
      ctx.fillText(o.note, ca.right - 5, ca.top + 23);
    }
    ctx.restore();
  },
};

type PanelSpec = {
  datasets: any[];
  yMin: number;
  yMax: number;
  yTicks: number[];
  yTitle: string;
  padTop: number;
  padBottom: number;
  xHeight: number;
  showX: boolean;
  note: string;
  zeroLine: boolean;
};

function makeConfig(p: PanelSpec): any {
  return {
    type: "line",
    data: { datasets: p.datasets },
    options: {
      responsive: false,
      animation: false,
      devicePixelRatio: 1,
      events: [],
      layout: { padding: { left: 0, right: 1, top: p.padTop, bottom: p.padBottom } },
      plugins: {
        legend: { display: false },
        tooltip: { enabled: false },
        decor: { note: p.note, zeroLine: p.zeroLine },
      },
      elements: { point: { radius: 0 } },
      scales: {
        x: {
          type: "linear",
          min: X_MIN,
          max: X_MAX,
          afterBuildTicks: (s: any) => {
            s.ticks = X_TICKS.map((v) => ({ value: v }));
          },
          ticks: {
            display: p.showX,
            autoSkip: false,
            maxRotation: 0,
            color: "#000",
            padding: 7,
            font: { family: FONT, size: 17 },
            callback: (v: any) => String(v),
          },
          grid: { color: GRID, lineWidth: 1, drawTicks: false },
          border: { display: false },
          afterFit: (s: any) => {
            s.height = p.xHeight;
            s.paddingLeft = 0;
            s.paddingRight = 0;
            s.paddingTop = 0;
            s.paddingBottom = 0;
          },
        },
        y: {
          type: "linear",
          min: p.yMin,
          max: p.yMax,
          afterBuildTicks: (s: any) => {
            s.ticks = p.yTicks.map((v) => ({ value: v }));
          },
          ticks: {
            color: "#000",
            padding: 9,
            font: { family: FONT, size: 19 },
            callback: (v: any) => String(v).replace("-", "\u2212"),
          },
          grid: { color: GRID, lineWidth: 1, drawTicks: false },
          border: { display: false },
          title: {
            display: true,
            text: p.yTitle,
            color: "#000",
            font: { family: FONT, size: 19 },
            padding: { top: 19, bottom: 0 },
          },
          afterFit: (s: any) => {
            s.width = 95;
            s.paddingTop = 0;
            s.paddingBottom = 0;
            s.paddingLeft = 0;
            s.paddingRight = 0;
          },
        },
      },
    },
    plugins: [decorPlugin],
  };
}

function mainDatasets(mean: any[], ldeo: any[], models: any[][], smooth: boolean, gw: number, gTension: number) {
  const common = smooth ? { cubicInterpolationMode: "monotone" } : { tension: 0 };
  return [
    { label: "LDEO-HPD", data: ldeo, borderColor: BLUE, borderWidth: 4.3, order: 0, borderJoinStyle: "round", borderCapStyle: "round", ...common },
    { label: "GOBM mean", data: mean, borderColor: BLACK, borderWidth: 4.3, order: 1, borderJoinStyle: "round", borderCapStyle: "round", ...common },
    ...models.map((m, i) => ({
      label: `GOBM model ${i + 1}`,
      data: m,
      borderColor: GRAY,
      borderWidth: gw,
      order: 2,
      ...(smooth ? { cubicInterpolationMode: "monotone" } : { tension: gTension }),
    })),
  ];
}

export default function App() {
  const c1 = useRef<HTMLCanvasElement>(null);
  const c2 = useRef<HTMLCanvasElement>(null);
  const c3 = useRef<HTMLCanvasElement>(null);

  useEffect(() => {
    document.body.style.margin = "0";
    const charts: Chart[] = [];

    charts.push(
      new Chart(c1.current as HTMLCanvasElement, makeConfig({
        datasets: mainDatasets(
          pairsXY(P1_MEAN),
          pairsXY(P1_LDEO),
          P1_MODELS.map((m) => zipXY(P1_MODEL_YEARS, m)),
          false, 1.1, 0
        ),
        yMin: -10.3, yMax: 14.22, yTicks: P1_Y_TICKS, yTitle: "ΔfCO₂ [μatm]",
        padTop: 14.7, padBottom: 16, xHeight: 0, showX: false, note: P1_NOTE, zeroLine: false,
      }))
    );

    charts.push(
      new Chart(c2.current as HTMLCanvasElement, makeConfig({
        datasets: mainDatasets(
          pairsXY(P2_MEAN),
          pairsXY(P2_LDEO),
          P2_MODELS.map((m) => zipXY(P2_MODEL_YEARS, m)),
          true, 1.1, 0
        ),
        yMin: -9.27, yMax: 13.57, yTicks: P2_Y_TICKS, yTitle: "ΔfCO₂ [μatm]",
        padTop: 17, padBottom: 13.3, xHeight: 0, showX: false, note: P2_NOTE, zeroLine: false,
      }))
    );

    charts.push(
      new Chart(c3.current as HTMLCanvasElement, makeConfig({
        datasets: mainDatasets(
          pairsXY(P3_MEAN),
          pairsXY(P3_LDEO),
          P3_MODELS.map((m) => zipXY(P3_MODEL_YEARS, m)),
          false, 1.1, 0.35
        ),
        yMin: -4.9, yMax: 4.34, yTicks: P3_Y_TICKS, yTitle: "ΔfCO₂ anomaly [μatm]",
        padTop: 19, padBottom: 0, xHeight: 27.7, showX: true, note: P3_NOTE, zeroLine: true,
      }))
    );

    return () => charts.forEach((c) => c.destroy());
  }, []);

  return (
    <div style={{ position: "absolute", left: 0, top: 0, width: 881, height: 1201, background: "#fff" }}>
      <canvas ref={c1} width={881} height={395} style={{ position: "absolute", left: 0, top: 0, display: "block" }} />
      <canvas ref={c2} width={881} height={395} style={{ position: "absolute", left: 0, top: 395, display: "block" }} />
      <canvas ref={c3} width={881} height={411} style={{ position: "absolute", left: 0, top: 790, display: "block" }} />
    </div>
  );
}
